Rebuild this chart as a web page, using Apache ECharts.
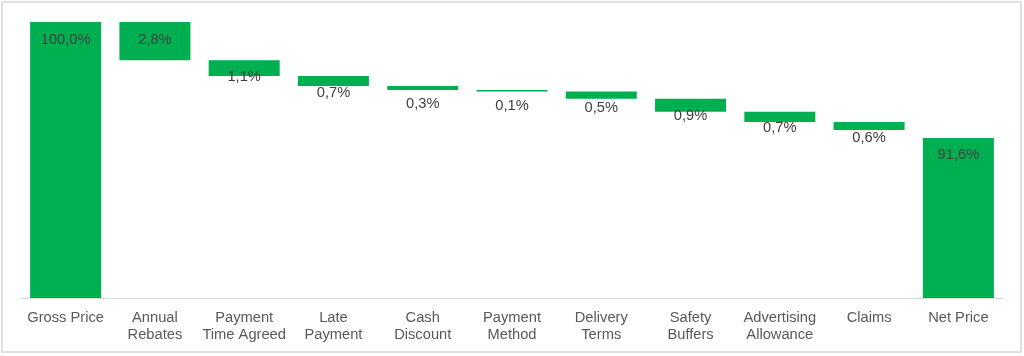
<!DOCTYPE html>
<html>
<head>
<meta charset="utf-8">
<script src="https://cdn.jsdelivr.net/npm/echarts@6/dist/echarts.min.js"></script>
<style>
html,body{margin:0;padding:0;background:#fff;}
#chart{width:1024px;height:356px;}
</style>
</head>
<body>
<div id="chart"></div>
<script>
const categories = ["Gross Price", "Annual\nRebates", "Payment\nTime Agreed", "Late\nPayment", "Cash\nDiscount", "Payment\nMethod", "Delivery\nTerms", "Safety\nBuffers", "Advertising\nAllowance", "Claims", "Net Price"];
const grossPrice = 100.0;
const deductions = [2.78, 1.14, 0.72, 0.29, 0.10, 0.53, 0.94, 0.74, 0.58];
const netPrice = 91.6;
const yMin = 80, yMax = 100;

// label nudges (vertical, px) for deduction labels
const labelNudge = [0, -7, -1, 6, 7, 2, -3, -1, 1];

const GREEN = '#00B050';
const baseData = [];
const valueData = [];
let level = grossPrice;
baseData.push(0);
valueData.push({value: grossPrice, label: {position: 'insideTop', distance: 10}});
deductions.forEach((d, i) => {
  level -= d;
  baseData.push(level);
  const item = {value: d};
  if (i === 0) {
    item.label = {position: 'insideTop', distance: 10};
  } else {
    item.label = {position: 'bottom', distance: 0, offset: [0, labelNudge[i]]};
  }
  valueData.push(item);
});
baseData.push(0);
valueData.push({value: netPrice, label: {position: 'insideTop', distance: 10}});

const chart = echarts.init(document.getElementById('chart'), null, {renderer: 'canvas'});
chart.setOption({
  animation: false,
  backgroundColor: '#fff',
  graphic: [{
    type: 'rect', shape: {x: 2, y: 2, width: 1019, height: 350},
    style: {fill: 'none', stroke: '#e0e0e0', lineWidth: 2}, silent: true, z: -1
  }],
  grid: {left: 21, right: 21, top: 22, bottom: 58, containLabel: false},
  xAxis: {
    type: 'category',
    data: categories,
    axisLine: {lineStyle: {color: '#d9d9d9', width: 1}},
    axisTick: {show: false},
    axisLabel: {
      interval: 0, color: '#595959', fontFamily: 'Liberation Sans, Arial, sans-serif',
      fontSize: 14.7, lineHeight: 17, margin: 11
    }
  },
  yAxis: {
    type: 'value', min: yMin, max: yMax,
    show: false, splitLine: {show: false}
  },
  series: [
    {
      type: 'bar', stack: 'w', data: baseData,
      itemStyle: {color: 'transparent'}, silent: true, barWidth: 71
    },
    {
      type: 'bar', stack: 'w', data: valueData, barWidth: 71,
      itemStyle: {color: GREEN},
      label: {
        show: true, color: '#404040', fontFamily: 'Liberation Sans, Arial, sans-serif',
        fontSize: 14.7,
        formatter: p => p.value.toFixed(1).replace('.', ',') + '%'
      }
    }
  ]
});
</script>
</body>
</html>
